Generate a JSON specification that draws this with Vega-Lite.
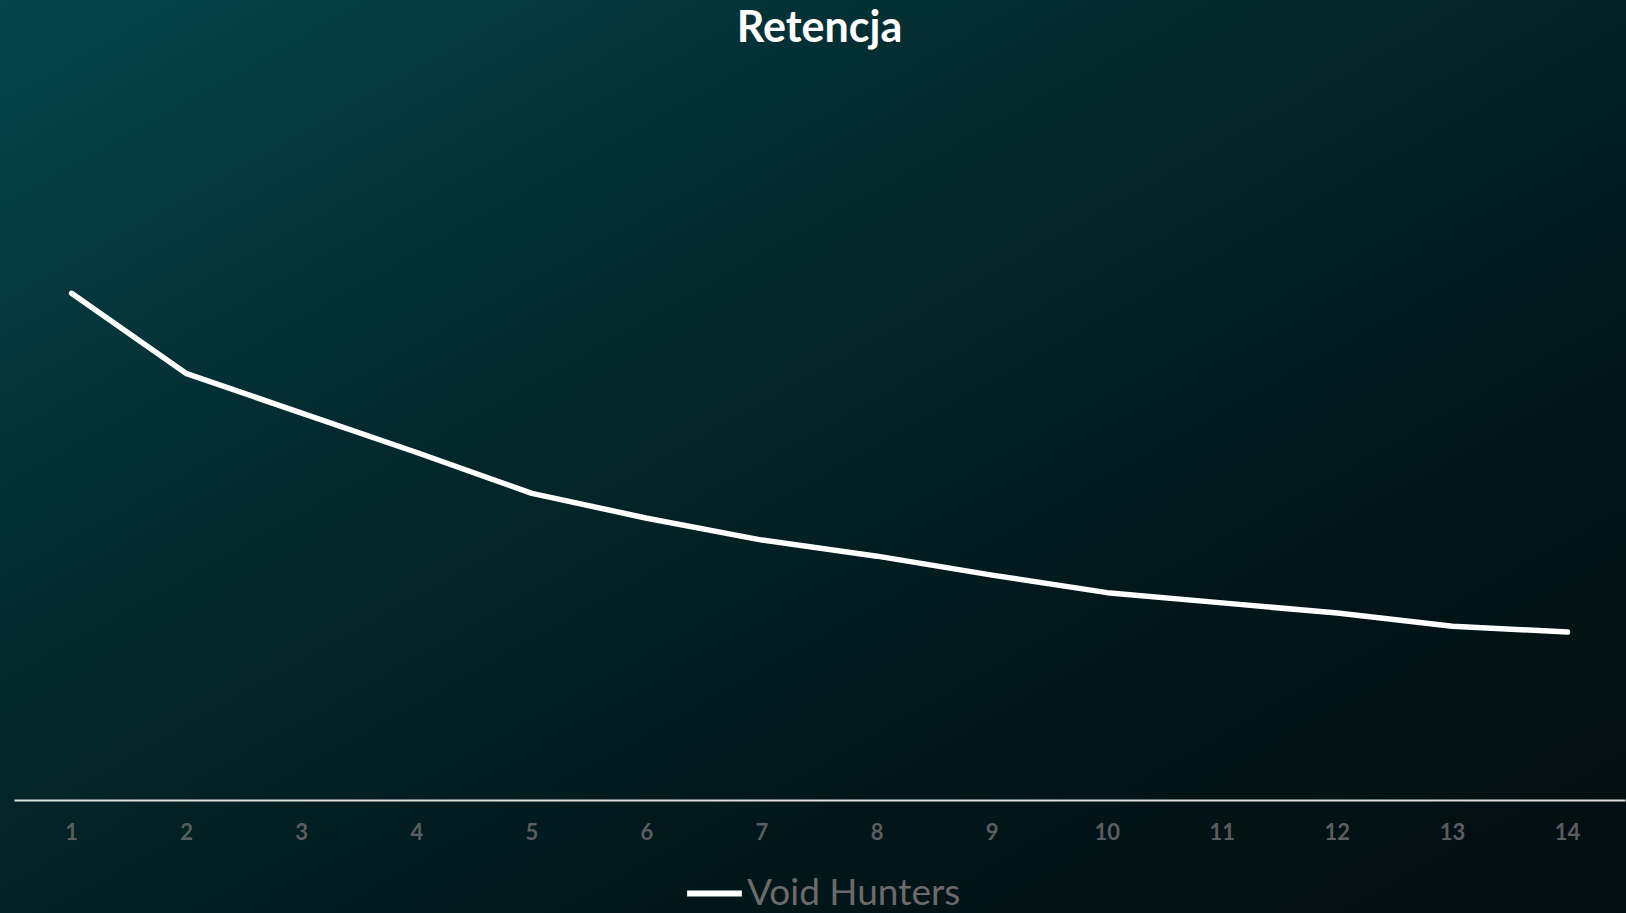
{
  "$schema": "https://vega.github.io/schema/vega-lite/v6.json",
  "width": 1626,
  "height": 913,
  "autosize": {"type": "none"},
  "padding": 0,
  "background": "#021417",
  "data": {
    "values": [
      {"day": "1", "retention": 34.7, "series": "Void Hunters"},
      {"day": "2", "retention": 29.2, "series": "Void Hunters"},
      {"day": "3", "retention": 26.5, "series": "Void Hunters"},
      {"day": "4", "retention": 23.8, "series": "Void Hunters"},
      {"day": "5", "retention": 21.0, "series": "Void Hunters"},
      {"day": "6", "retention": 19.3, "series": "Void Hunters"},
      {"day": "7", "retention": 17.8, "series": "Void Hunters"},
      {"day": "8", "retention": 16.7, "series": "Void Hunters"},
      {"day": "9", "retention": 15.4, "series": "Void Hunters"},
      {"day": "10", "retention": 14.2, "series": "Void Hunters"},
      {"day": "11", "retention": 13.5, "series": "Void Hunters"},
      {"day": "12", "retention": 12.8, "series": "Void Hunters"},
      {"day": "13", "retention": 11.9, "series": "Void Hunters"},
      {"day": "14", "retention": 11.5, "series": "Void Hunters"}
    ]
  },
  "mark": {"type": "line", "strokeWidth": 5.5, "strokeCap": "round", "strokeJoin": "round"},
  "encoding": {
    "x": {
      "field": "day",
      "type": "ordinal",
      "sort": null,
      "scale": {"type": "band", "range": [14, 1625], "paddingInner": 0, "paddingOuter": 0},
      "axis": {
        "title": null,
        "offset": -113,
        "domain": true,
        "domainColor": "#e0e0e0",
        "domainWidth": 2,
        "ticks": false,
        "grid": false,
        "labelAngle": 0,
        "labelPadding": 22,
        "labelFont": "Lato",
        "labelFontSize": 22,
        "labelFontWeight": "bold",
        "labelColor": "#5a5e60",
        "labelBaseline": "top"
      }
    },
    "y": {
      "field": "retention",
      "type": "quantitative",
      "scale": {"domain": [-7.74, 54.79], "nice": false, "zero": false},
      "axis": {
        "orient": "left",
        "title": "Retencja",
        "labels": false,
        "ticks": false,
        "domain": false,
        "grid": false,
        "titleAngle": 0,
        "titleX": 819,
        "titleY": 41,
        "titleAlign": "center",
        "titleBaseline": "alphabetic",
        "titleLimit": 0,
        "titleFont": "Lato",
        "titleFontSize": 43,
        "titleFontWeight": "bold",
        "titleColor": "#ffffff"
      }
    },
    "color": {
      "field": "series",
      "type": "nominal",
      "scale": {"range": ["#ffffff"]},
      "legend": {
        "title": null,
        "orient": "none",
        "legendX": 684,
        "legendY": 863,
        "symbolType": "stroke",
        "symbolSize": 3000,
        "symbolStrokeWidth": 6,
        "symbolStrokeColor": "#ffffff",
        "labelFont": "Lato",
        "labelFontSize": 37,
        "labelLimit": 0,
        "labelColor": "#6b6b6b",
        "labelOffset": 2,
        "padding": 0
      }
    }
  },
  "config": {
    "view": {
      "stroke": null,
      "fill": {
        "gradient": "linear",
        "x1": 0, "y1": 0, "x2": 1, "y2": 1,
        "stops": [
          {"offset": 0, "color": "#05464b"},
          {"offset": 0.35, "color": "#032a2e"},
          {"offset": 0.7, "color": "#021619"},
          {"offset": 1, "color": "#020d10"}
        ]
      }
    }
  }
}
